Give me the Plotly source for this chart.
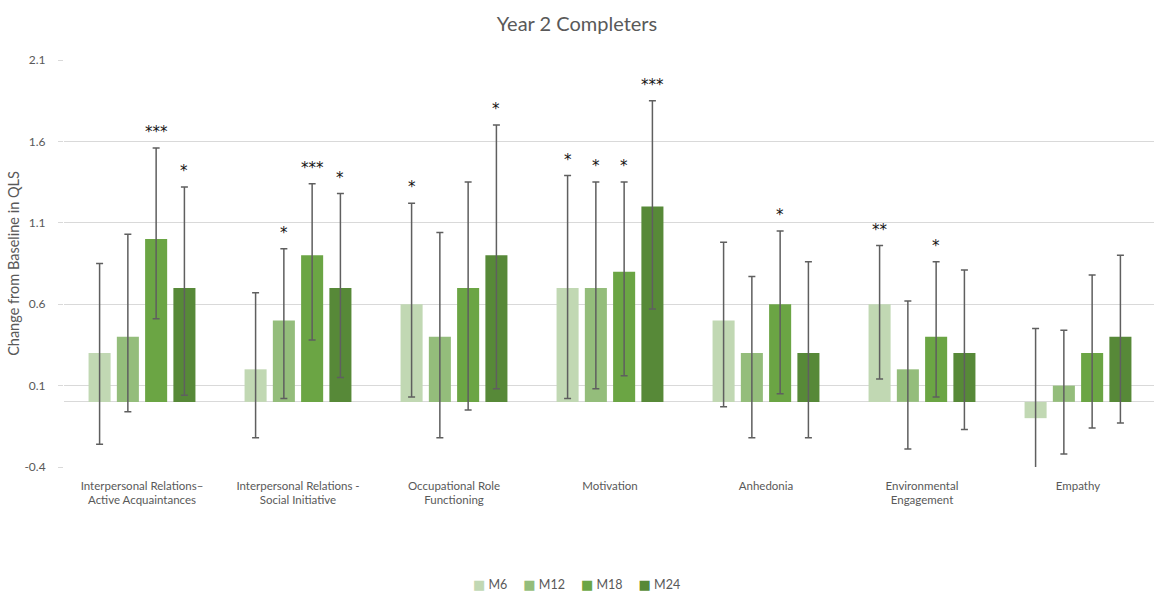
import plotly.graph_objects as go

categories = [
    "Interpersonal Relations–<br>Active Acquaintances",
    "Interpersonal Relations -<br>Social Initiative",
    "Occupational Role<br>Functioning",
    "Motivation",
    "Anhedonia",
    "Environmental<br>Engagement",
    "Empathy",
]
series_names = ["M6", "M12", "M18", "M24"]

m6_values = [0.3, 0.2, 0.6, 0.7, 0.5, 0.6, -0.1]
m6_upper = [0.85, 0.67, 1.22, 1.39, 0.98, 0.96, 0.45]
m6_lower = [-0.26, -0.22, 0.03, 0.02, -0.03, 0.14, -0.65]
m6_stars = ["", "", "*", "*", "", "**", ""]

m12_values = [0.4, 0.5, 0.4, 0.7, 0.3, 0.2, 0.1]
m12_upper = [1.03, 0.94, 1.04, 1.35, 0.77, 0.62, 0.44]
m12_lower = [-0.06, 0.02, -0.22, 0.08, -0.22, -0.29, -0.32]
m12_stars = ["", "*", "", "*", "", "", ""]

m18_values = [1.0, 0.9, 0.7, 0.8, 0.6, 0.4, 0.3]
m18_upper = [1.56, 1.34, 1.35, 1.35, 1.05, 0.86, 0.78]
m18_lower = [0.51, 0.38, -0.05, 0.16, 0.05, 0.03, -0.16]
m18_stars = ["***", "***", "", "*", "*", "*", ""]

m24_values = [0.7, 0.7, 0.9, 1.2, 0.3, 0.3, 0.4]
m24_upper = [1.32, 1.28, 1.70, 1.85, 0.86, 0.81, 0.90]
m24_lower = [0.04, 0.15, 0.08, 0.57, -0.22, -0.17, -0.13]
m24_stars = ["*", "*", "*", "***", "", "", ""]

y_ticks = [-0.4, 0.1, 0.6, 1.1, 1.6, 2.1]
y_tick_labels = ["-0.4", "0.1", "0.6", "1.1", "1.6", "2.1"]

colors = ["#C1D8B3", "#94BD7B", "#6BA544", "#578938"]

values = [m6_values, m12_values, m18_values, m24_values]
uppers = [m6_upper, m12_upper, m18_upper, m24_upper]
lowers = [m6_lower, m12_lower, m18_lower, m24_lower]
stars = [m6_stars, m12_stars, m18_stars, m24_stars]

FONT = "Lato, 'Open Sans', sans-serif"
GRAY = "#595959"
BARGAP = 0.275

fig = go.Figure()
for name, vals, up, lo, col in zip(series_names, values, uppers, lowers, colors):
    fig.add_trace(go.Bar(
        name=name,
        x=categories,
        y=vals,
        showlegend=False,
        marker=dict(color=col, line=dict(width=0)),
        error_y=dict(
            type="data",
            symmetric=False,
            array=[u - v for u, v in zip(up, vals)],
            arrayminus=[v - l for v, l in zip(vals, lo)],
            color="#5f5f5f",
            thickness=1.5,
            width=3.5,
        ),
    ))

n = len(series_names)
slot = (1 - BARGAP) / n
annotations = []
for k, (st, up) in enumerate(zip(stars, uppers)):
    off = (k - (n - 1) / 2) * slot
    for i, s in enumerate(st):
        if s:
            annotations.append(dict(
                x=i + off, y=up[i], xref="x", yref="y",
                text=s, showarrow=False, yanchor="bottom", yshift=5,
                font=dict(family="DejaVu Sans", size=15, color="#111111"),
            ))

# Legend (Excel style: small square swatch right before each name)
nb = "\u00a0"
legend_parts = [
    f"<span style='color:{c};font-family:DejaVu Sans;font-size:13px'>■</span>{nb}{name}"
    for name, c in zip(series_names, colors)
]
annotations.append(dict(
    x=(576 - 64) / 1090, y=(467 - 584) / 407, xref="paper", yref="paper",
    xanchor="center", yanchor="middle", showarrow=False,
    text=(nb * 5).join(legend_parts),
    font=dict(family=FONT, size=12.5, color=GRAY),
))

fig.update_layout(
    width=1154, height=593,
    margin=dict(l=64, r=0, t=60, b=126, autoexpand=False),
    paper_bgcolor="white", plot_bgcolor="white",
    barmode="group", bargap=BARGAP, bargroupgap=0.22,
    font=dict(family=FONT, color=GRAY, size=13),
    title=dict(text="Year 2 Completers", x=0.5, xref="container", xanchor="center",
               y=1 - 24 / 593, yanchor="middle",
               font=dict(family=FONT, size=20, color=GRAY)),
    annotations=annotations,
    showlegend=False,
)
fig.update_xaxes(
    type="category", range=[-0.5, -0.5 + 1090 / 156],
    showgrid=False, showline=False, ticks="",
    ticklabelstandoff=10,
    tickfont=dict(family=FONT, size=11.5, color=GRAY),
)
fig.update_yaxes(
    range=[-0.4, 2.1], tickvals=y_ticks, ticktext=y_tick_labels,
    showgrid=True, gridcolor="#D9D9D9", gridwidth=1,
    zeroline=True, zerolinecolor="#D9D9D9", zerolinewidth=1,
    ticks="outside", ticklen=5, tickcolor="#D9D9D9",
    ticklabelstandoff=10,
    tickfont=dict(family=FONT, size=12, color=GRAY),
    title=dict(text="Change from Baseline in QLS", font=dict(family=FONT, size=14.5, color=GRAY), standoff=1),
)

fig.write_html("out.html")
